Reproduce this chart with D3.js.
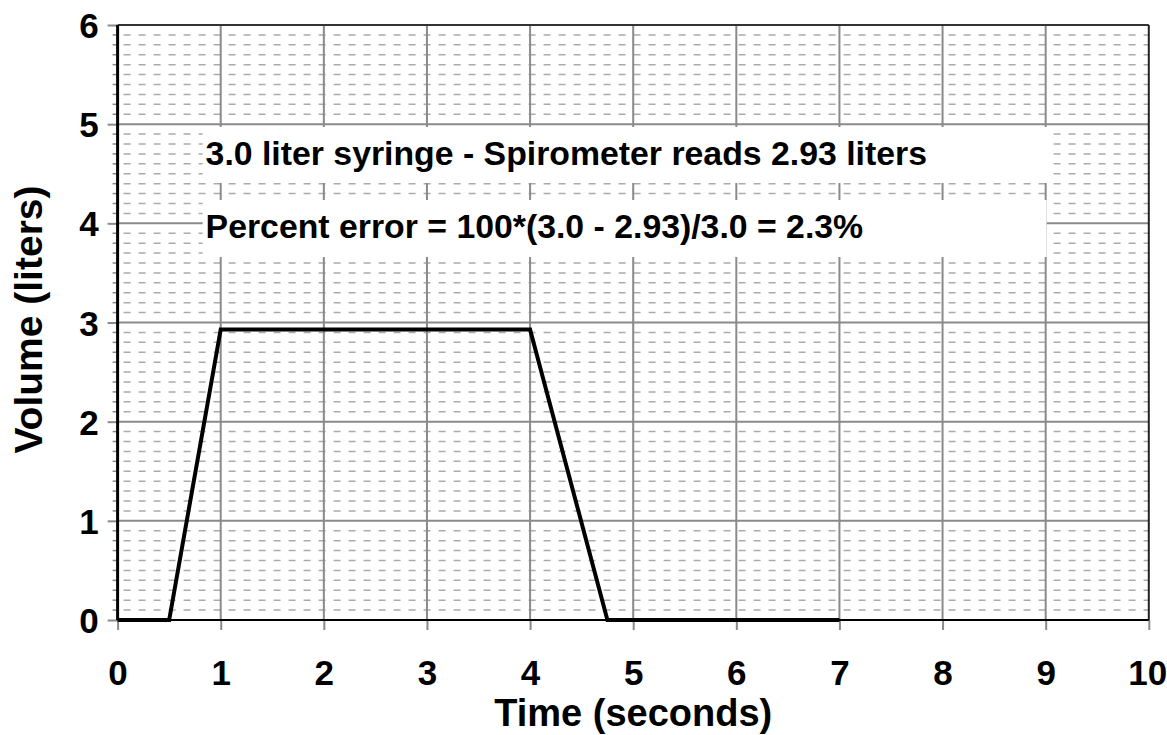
<!DOCTYPE html>
<html>
<head>
<meta charset="utf-8">
<script src="https://cdn.jsdelivr.net/npm/d3@7"></script>
<style>
  body { margin: 0; background: #fff; }
  svg { display: block; font-family: "Liberation Sans", Arial, sans-serif; font-weight: bold; }
</style>
</head>
<body>
<div id="chart"></div>
<script>
// spirometer calibration trace: time (s) vs volume (liters)
var timeValues = [0, 0.5, 1, 4, 4.75, 7];
var volumeValues = [0, 0, 2.93, 2.93, 0, 0];
var xTicks = [0, 1, 2, 3, 4, 5, 6, 7, 8, 9, 10];
var yTicks = [0, 1, 2, 3, 4, 5, 6];
var notes = ["3.0 liter syringe - Spirometer reads 2.93 liters",
             "Percent error = 100*(3.0 - 2.93)/3.0 = 2.3%"];

var W = 1167, H = 735;
var margin = {left: 117.6, right: 18.2, top: 25, bottom: 115};
var width = W - margin.left - margin.right;
var height = H - margin.top - margin.bottom;

var svg = d3.select("#chart").append("svg")
    .attr("width", W)
    .attr("height", H);

var g = svg.append("g")
    .attr("transform", "translate(" + margin.left + "," + margin.top + ")");

var x = d3.scaleLinear().domain([0, 10]).range([0, width]);
var y = d3.scaleLinear().domain([0, 6]).range([height, 0]);

// minor dashed lines every 0.1 liter
var minor = d3.range(1, 60).filter(function(i) { return i % 10 !== 0; })
    .map(function(i) { return i / 10; });

g.append("g").selectAll("line")
    .data(minor)
    .enter().append("line")
    .attr("x1", 6).attr("x2", width)
    .attr("y1", function(d) { return y(d); })
    .attr("y2", function(d) { return y(d); })
    .attr("stroke", "#ababab")
    .attr("stroke-width", 1.5)
    .attr("stroke-dasharray", "7,8");

// major grid
g.append("g").selectAll("line")
    .data(yTicks.slice(1, -1))
    .enter().append("line")
    .attr("x1", 0).attr("x2", width)
    .attr("y1", function(d) { return y(d); })
    .attr("y2", function(d) { return y(d); })
    .attr("stroke", "#8a8a8a")
    .attr("stroke-width", 2);

g.append("g").selectAll("line")
    .data(xTicks.slice(1, -1))
    .enter().append("line")
    .attr("x1", function(d) { return x(d); })
    .attr("x2", function(d) { return x(d); })
    .attr("y1", 0).attr("y2", height)
    .attr("stroke", "#8a8a8a")
    .attr("stroke-width", 2);

// text boxes
var boxes = [
  {x0: 85, x1: 934, y0: 102, y1: 158, tx: 88, ty: 140},
  {x0: 85, x1: 929, y0: 175, y1: 232, tx: 88, ty: 213}
];
boxes.forEach(function(b, i) {
  g.append("rect")
      .attr("x", b.x0).attr("y", b.y0)
      .attr("width", b.x1 - b.x0).attr("height", b.y1 - b.y0)
      .attr("fill", "#fff");
  g.append("text")
      .attr("x", b.tx).attr("y", b.ty)
      .attr("font-size", 33.8)
      .attr("fill", "#000")
      .text(notes[i]);
});

// plot border
g.append("line").attr("x1", 0).attr("x2", width).attr("y1", 0).attr("y2", 0)
    .attr("stroke", "#333").attr("stroke-width", 2);
g.append("line").attr("x1", width).attr("x2", width).attr("y1", 0).attr("y2", height)
    .attr("stroke", "#222").attr("stroke-width", 2);

// axes
var yAxis = d3.axisLeft(y).tickValues(yTicks).tickFormat(d3.format("d"))
    .tickSize(10).tickPadding(9);
var yg = g.append("g").call(yAxis);
yg.select(".domain").remove();
yg.selectAll(".tick line").attr("stroke", "#8a8a8a").attr("stroke-width", 2);
yg.selectAll(".tick text").attr("font-size", 35).attr("font-family", null)
    .attr("fill", "#000").attr("dy", "0.36em");

g.append("g").selectAll("line")
    .data(minor)
    .enter().append("line")
    .attr("x1", -5).attr("x2", 0)
    .attr("y1", function(d) { return y(d); })
    .attr("y2", function(d) { return y(d); })
    .attr("stroke", "#8a8a8a")
    .attr("stroke-width", 1.5);

var xAxis = d3.axisBottom(x).tickValues(xTicks).tickFormat(d3.format("d"))
    .tickSize(10).tickPadding(30);
var xg = g.append("g").attr("transform", "translate(0," + height + ")").call(xAxis);
xg.select(".domain").remove();
xg.selectAll(".tick line").attr("stroke", "#8a8a8a").attr("stroke-width", 2);
xg.selectAll(".tick text").attr("font-size", 35).attr("font-family", null)
    .attr("fill", "#000").attr("dy", "0.72em");
// keep the last label inside the page
xg.selectAll(".tick text").filter(function(d) { return d === 10; })
    .attr("text-anchor", "end").attr("x", 18);

g.append("line").attr("x1", 0).attr("x2", 0).attr("y1", 0).attr("y2", height)
    .attr("stroke", "#000").attr("stroke-width", 3);
g.append("line").attr("x1", 0).attr("x2", width).attr("y1", height).attr("y2", height)
    .attr("stroke", "#000").attr("stroke-width", 2);

// data trace
var pts = timeValues.map(function(t, i) { return [t, volumeValues[i]]; });
var line = d3.line()
    .x(function(d) { return x(d[0]); })
    .y(function(d) { return y(d[1]); });

g.append("path")
    .datum(pts)
    .attr("d", line)
    .attr("fill", "none")
    .attr("stroke", "#000")
    .attr("stroke-width", 4)
    .attr("stroke-linejoin", "miter");

// axis titles
svg.append("text")
    .attr("x", margin.left + width / 2)
    .attr("y", 726)
    .attr("text-anchor", "middle")
    .attr("font-size", 38)
    .text("Time (seconds)");

svg.append("text")
    .attr("transform", "translate(42," + (margin.top + height / 2 - 3) + ") rotate(-90)")
    .attr("text-anchor", "middle")
    .attr("font-size", 39)
    .text("Volume (liters)");
</script>
</body>
</html>
